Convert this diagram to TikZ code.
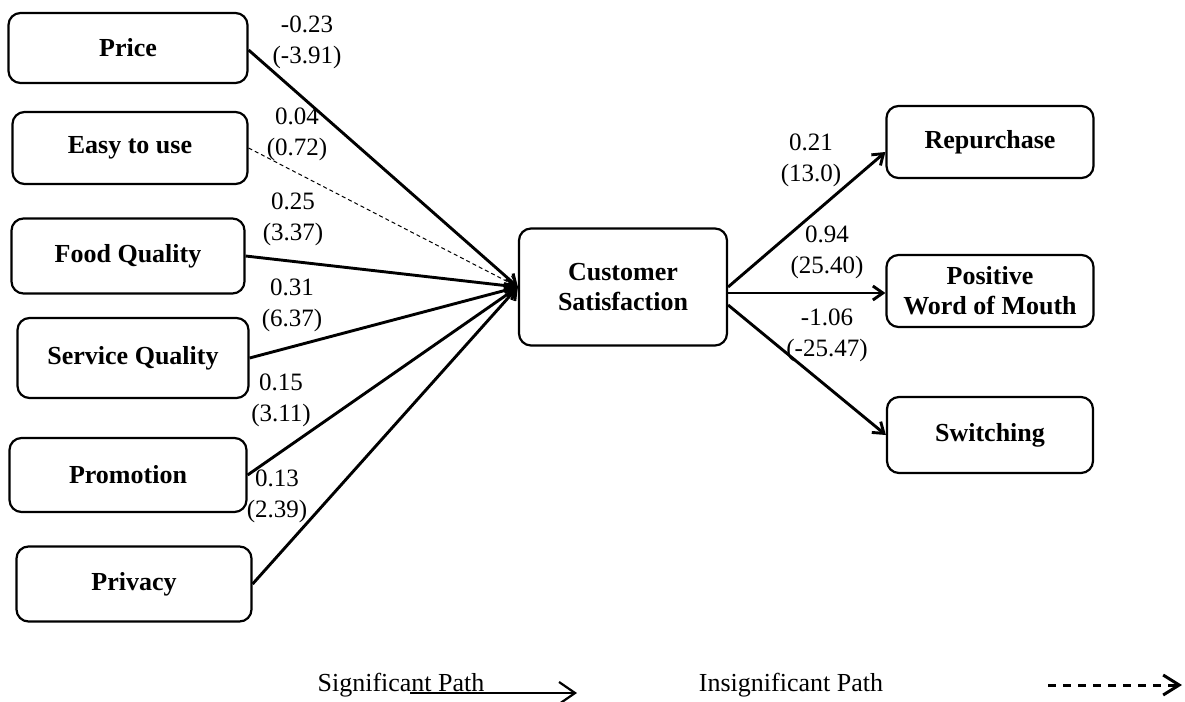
\documentclass[tikz,border=0pt]{standalone}
\usepackage{fontspec}
\setmainfont{Liberation Serif}
\usetikzlibrary{arrows.meta}
\begin{document}
\begin{tikzpicture}[
                x=0.5pt, y=-0.5pt,
                box/.style={draw, line width=1.1pt, rounded corners=6pt, align=center,
                        inner sep=0pt, font=\bfseries\fontsize{13}{15}\selectfont},
                coef/.style={align=center, inner sep=0pt, font=\fontsize{12.5}{15.5}\selectfont},
                legend/.style={inner sep=0pt, font=\fontsize{13}{15}\selectfont},
                sig/.style={line width=1.45pt, -{Straight Barb[length=5pt,width=7pt]}},
                insig/.style={line width=0.5pt, dash pattern=on 2pt off 1.5pt,
                        -{Straight Barb[length=5pt,width=7pt]}}
            ]

            \useasboundingbox (0,0) rectangle (1185,702);

            % antecedents
            \node[box, minimum width=119.5pt, minimum height=35pt] (price) at (128,48) {Price};
            \node[box, minimum width=117.5pt, minimum height=36pt] (easy) at (130,148) {Easy to use};
            \node[box, minimum width=116.5pt, minimum height=37.5pt] (food) at (128,256) {Food Quality};
            \node[box, minimum width=115.5pt, minimum height=40pt] (service) at (133,358) {Service Quality};
            \node[box, minimum width=118.5pt, minimum height=37pt] (promo) at (128,475) {Promotion};
            \node[box, minimum width=117.5pt, minimum height=37.5pt] (privacy) at (134,584) {Privacy};

            \node[box, minimum width=104pt, minimum height=58.5pt] (cs) at (623,287) {Customer\\Satisfaction};

            % outcomes
            \node[box, minimum width=103.5pt, minimum height=36pt] (rep) at (990,142) {Repurchase};
            \node[box, minimum width=103.5pt, minimum height=36pt] (wom) at (990,291) {Positive\\Word of Mouth};
            \node[box, minimum width=103pt, minimum height=38pt] (switch) at (990,435) {Switching};

            \draw[sig] ([yshift=-1pt]price.east) -- (cs.west);
            \draw[insig] (easy.east) -- (cs.west);
            \draw[sig] (food.east) -- (cs.west);
            \draw[sig] (service.east) -- (cs.west);
            \draw[sig] (promo.east) -- (cs.west);
            \draw[sig] (privacy.east) -- (cs.west);

            \draw[sig] (cs.east) -- ([yshift=-5pt]rep.west);
            \draw[sig] ([yshift=-3pt]cs.east) -- ([yshift=-1pt]wom.west);
            \draw[sig] ([yshift=-9pt]cs.east) -- (switch.west);

            % path coefficients
            \node[coef] (cPrice) at (307,42) {-0.23\\(-3.91)};
            \node[coef] (cEasy) at (297,134) {0.04\\(0.72)};
            \node[coef] (cFood) at (293,219) {0.25\\(3.37)};
            \node[coef] (cService) at (292,305) {0.31\\(6.37)};
            \node[coef] (cPromo) at (281,400) {0.15\\(3.11)};
            \node[coef] (cPrivacy) at (277,496) {0.13\\(2.39)};
            \node[coef] (cRep) at (811,160) {0.21\\(13.0)};
            \node[coef] (cWom) at (827,252) {0.94\\(25.40)};
            \node[coef] (cSwitch) at (827,335) {-1.06\\(-25.47)};

            % legend
            \node[legend] (sigText) at (401,685) {Significant Path};
            \node[legend] (insigText) at (791,685) {Insignificant Path};
            \coordinate (sigA) at (410,693);
            \coordinate (sigB) at (577,693);
            \coordinate (insA) at (1048,685);
            \coordinate (insB) at (1182,685);
            \draw[line width=1.1pt, -{Straight Barb[length=8pt,width=11pt]}] (sigA) -- (sigB);
            \draw[line width=1.5pt, dash pattern=on 4pt off 3.5pt,
                -{Straight Barb[length=8pt,width=10pt]}] (insA) -- (insB);

        \end{tikzpicture}
\end{document}
